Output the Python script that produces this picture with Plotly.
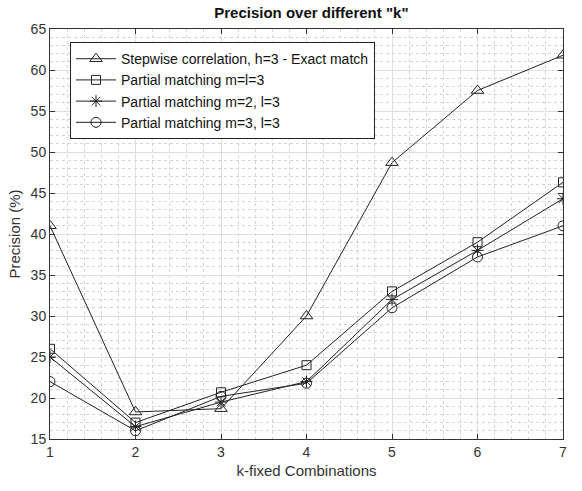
import plotly.graph_objects as go

k = [1, 2, 3, 4, 5, 6, 7]
stepwise = [41.0, 18.3, 18.7, 30.0, 48.7, 57.5, 61.8]
pm_ml3 = [26.0, 17.0, 20.7, 24.0, 33.0, 39.0, 46.3]
pm_m2_l3 = [25.0, 16.5, 19.5, 22.0, 32.0, 38.0, 44.3]
pm_m3_l3 = [22.0, 16.0, 20.2, 21.8, 31.0, 37.2, 41.0]

names = ["Stepwise correlation, h=3 - Exact match", "Partial matching m=l=3",
         "Partial matching m=2, l=3", "Partial matching m=3, l=3"]
series = [stepwise, pm_ml3, pm_m2_l3, pm_m3_l3]
symbols = ["triangle-up-open", "square-open", "asterisk-open", "circle-open"]
sizes = [11, 9, 10, 10]

fig = go.Figure()
for n, s, sym, sz in zip(names, series, symbols, sizes):
    fig.add_trace(go.Scatter(x=k, y=s, name=n, mode="lines+markers",
                             line=dict(color="#222222", width=1),
                             marker=dict(symbol=sym, size=sz, color="#222222",
                                         line=dict(width=1, color="#222222"))))

font = "Liberation Sans, Arial, sans-serif"
axis_common = dict(showline=True, linecolor="#333333", linewidth=1, mirror="allticks",
                   ticks="inside", ticklen=5, tickcolor="#333333",
                   showgrid=True, gridcolor="#dedede", gridwidth=1, zeroline=False,
                   tickfont=dict(family=font, size=14, color="#333333"))

fig.update_layout(
    width=582, height=491,
    margin=dict(l=50, r=19, t=29, b=52),
    paper_bgcolor="white", plot_bgcolor="white",
    title=dict(text="<b>Precision over different \"k\"</b>", x=0.535, xanchor="center",
               y=0.975, yanchor="middle",
               font=dict(family=font, size=15, color="#111111")),
    showlegend=True,
    legend=dict(x=0.039, y=0.968, xanchor="left", yanchor="top",
                bgcolor="white", bordercolor="#222222", borderwidth=1,
                font=dict(family=font, size=14, color="#111111"),
                itemwidth=40, tracegroupgap=0),
    xaxis=dict(range=[1, 7], dtick=1, tick0=1,
               title=dict(text="k-fixed Combinations", font=dict(family=font, size=15, color="#333333"), standoff=6),
               minor=dict(dtick=0.2, showgrid=True, gridcolor="#d4d4d4", griddash="dot", ticks=""),
               **axis_common),
    yaxis=dict(range=[15, 65], dtick=5, tick0=15,
               title=dict(text="Precision (%)", font=dict(family=font, size=15, color="#333333"), standoff=6),
               minor=dict(dtick=1, showgrid=True, gridcolor="#d4d4d4", griddash="dot", ticks=""),
               **axis_common),
)

fig.write_html("out.html")
